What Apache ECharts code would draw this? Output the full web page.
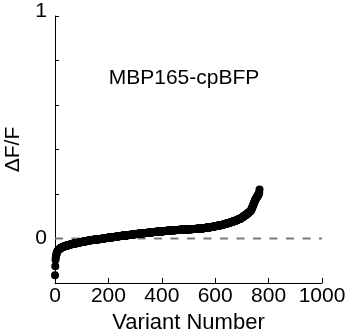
<!DOCTYPE html>
<html>
<head>
<meta charset="utf-8">
<script src="https://cdn.jsdelivr.net/npm/echarts@6/dist/echarts.min.js"></script>
<style>html,body{margin:0;padding:0;background:#fff;}#c{width:348px;height:329px;}</style>
</head>
<body>
<div id="c"></div>
<script>
// Sorted ΔF/F per variant (variant number = position in list)
var dFF = [
-0.165,-0.125,-0.095,-0.085,-0.078,-0.072,-0.068,-0.064,-0.061,-0.058,
-0.056,-0.054,-0.052,-0.051,-0.050,-0.049,-0.048,-0.047,-0.046,-0.045,-0.044,-0.043,-0.043,-0.042,-0.041,-0.041,-0.040,-0.039,-0.039,-0.038,-0.038,-0.037,-0.037,-0.036,-0.036,-0.035,-0.035,-0.034,-0.034,-0.034,-0.033,-0.033,-0.033,-0.032,-0.032,-0.032,-0.031,-0.031,-0.031,-0.030,-0.030,
-0.029,-0.029,-0.029,-0.028,-0.028,-0.028,-0.027,-0.027,-0.027,-0.026,-0.026,-0.026,-0.025,-0.025,-0.025,
-0.024,-0.024,-0.024,-0.024,-0.023,-0.023,-0.023,-0.023,-0.022,-0.022,-0.022,-0.022,-0.021,-0.021,-0.021,-0.021,
-0.020,-0.020,-0.020,-0.020,-0.019,-0.019,-0.019,-0.019,-0.018,-0.018,-0.018,-0.018,-0.017,-0.017,-0.017,-0.017,
-0.016,-0.016,-0.016,-0.016,-0.015,-0.015,-0.015,-0.015,-0.014,-0.014,-0.014,-0.014,-0.013,-0.013,-0.013,-0.013,
-0.012,-0.012,-0.012,-0.012,-0.011,-0.011,-0.011,-0.011,-0.010,-0.010,-0.010,
-0.009,-0.009,-0.009,-0.009,-0.009,-0.009,-0.008,-0.008,-0.008,-0.008,-0.008,-0.008,
-0.007,-0.007,-0.007,-0.007,-0.007,-0.007,-0.006,-0.006,-0.006,-0.006,-0.006,-0.006,
-0.005,-0.005,-0.005,-0.005,-0.005,-0.005,-0.004,-0.004,-0.004,-0.004,-0.004,-0.004,
-0.003,-0.003,-0.003,-0.003,-0.003,-0.003,-0.002,-0.002,-0.002,-0.002,-0.002,-0.002,
-0.001,-0.001,-0.001,-0.001,-0.001,-0.001,0,0,0,0,0,0,
0.001,0.001,0.001,0.001,0.001,0.001,0.002,0.002,0.002,0.002,0.002,0.002,0.003,0.003,0.003,0.003,
0.004,0.004,0.004,0.004,0.004,0.004,0.005,0.005,0.005,0.005,0.005,0.005,
0.006,0.006,0.006,0.006,0.006,0.006,0.007,0.007,0.007,0.007,0.007,0.007,
0.008,0.008,0.008,0.008,0.008,0.008,0.009,0.009,0.009,0.009,0.009,0.009,
0.010,0.010,0.010,0.010,0.010,0.010,0.011,0.011,0.011,0.011,0.011,0.011,
0.012,0.012,0.012,0.012,0.012,0.012,0.013,0.013,0.013,0.013,0.013,0.013,
0.014,0.014,0.014,0.014,0.014,0.014,
0.015,0.015,0.015,0.015,0.015,0.015,0.015,0.016,0.016,0.016,0.016,0.016,0.016,0.016,
0.017,0.017,0.017,0.017,0.017,0.017,0.017,0.018,0.018,0.018,0.018,0.018,0.018,0.018,
0.019,0.019,0.019,0.019,0.019,0.019,0.019,0.020,0.020,0.020,0.020,0.020,0.020,0.020,
0.021,0.021,0.021,0.021,0.021,0.021,0.021,0.022,0.022,0.022,0.022,0.022,0.022,0.022,
0.023,0.023,0.023,0.023,0.023,0.023,0.023,0.024,0.024,0.024,0.024,0.024,0.024,0.024,
0.025,0.025,0.025,0.025,0.025,0.025,0.025,0.025,0.026,0.026,0.026,0.026,0.026,0.026,0.026,0.026,
0.027,0.027,0.027,0.027,0.027,0.027,0.027,0.027,0.028,0.028,0.028,0.028,0.028,0.028,0.028,0.028,
0.029,0.029,0.029,0.029,0.029,0.029,0.029,0.029,0.030,0.030,0.030,0.030,0.030,0.030,0.030,0.030,
0.031,0.031,0.031,0.031,0.031,0.031,0.031,0.031,0.032,0.032,0.032,0.032,0.032,0.032,0.032,0.032,
0.033,0.033,0.033,0.033,0.033,0.033,0.033,0.033,0.034,0.034,0.034,0.034,0.034,0.034,0.034,0.034,
0.035,0.035,0.035,0.035,0.035,0.035,0.035,0.035,0.035,0.035,0.035,0.035,
0.036,0.036,0.036,0.036,0.036,0.036,0.036,0.036,0.036,0.036,0.036,0.036,
0.037,0.037,0.037,0.037,0.037,0.037,0.037,0.037,0.037,0.037,0.037,0.037,
0.038,0.038,0.038,0.038,0.038,0.038,0.038,0.038,0.038,0.038,0.038,0.038,
0.039,0.039,0.039,0.039,0.039,0.039,0.039,0.039,0.039,0.039,0.039,0.039,
0.040,0.040,0.040,0.040,0.040,0.040,0.040,0.040,0.040,0.040,0.040,0.040,
0.041,0.041,0.041,0.041,0.041,0.041,0.041,0.041,0.041,0.041,0.041,0.041,0.041,
0.042,0.042,0.042,0.042,0.042,0.042,0.042,0.042,0.042,0.042,0.042,0.042,0.042,
0.043,0.043,0.043,0.043,0.043,0.043,0.043,0.043,0.043,0.043,0.043,0.043,0.043,
0.044,0.044,0.044,0.044,0.044,0.044,0.044,0.044,0.044,0.044,0.044,0.044,0.044,
0.045,0.045,0.045,0.045,0.045,0.045,0.045,0.045,0.045,0.045,0.045,0.045,0.045,
0.046,0.046,0.046,0.046,0.046,0.047,0.047,0.047,0.047,0.047,0.048,0.048,0.048,0.048,0.048,
0.049,0.049,0.049,0.049,0.049,0.050,0.050,0.050,0.050,0.050,0.051,0.051,0.051,0.051,0.051,
0.052,0.052,0.052,0.052,0.052,0.053,0.053,0.053,0.053,0.053,0.054,0.054,0.054,0.054,0.054,
0.055,0.055,0.055,0.055,0.056,0.056,0.056,0.056,0.057,0.057,0.057,0.057,
0.058,0.058,0.058,0.058,0.059,0.059,0.059,0.059,0.060,0.060,0.060,0.060,
0.060,0.061,0.061,0.061,0.062,0.062,0.062,0.063,0.063,0.063,0.064,0.064,0.064,0.065,0.065,0.065,0.066,0.066,0.066,0.067,0.067,0.067,0.068,0.068,0.068,
0.069,0.069,0.069,0.070,0.070,0.071,0.071,0.071,0.072,0.072,0.073,0.073,0.073,0.074,0.074,0.075,0.075,0.075,0.076,0.076,0.077,0.077,0.077,0.078,0.078,
0.079,0.079,0.080,0.080,0.081,0.081,0.082,0.082,0.083,0.083,0.084,0.084,0.085,0.085,0.086,0.086,0.087,0.087,0.088,0.088,0.089,0.089,0.090,0.090,0.091,
0.092,0.093,0.094,0.095,0.096,0.096,0.097,0.098,0.099,0.100,0.101,0.101,0.102,0.103,0.104,0.105,0.106,0.107,0.107,0.108,0.109,0.110,0.111,0.112,0.113,0.114,0.115,0.116,0.117,0.118,0.119,0.120,0.121,0.122,0.123,0.125,0.126,
0.128,0.131,0.134,0.137,0.140,0.143,0.146,0.149,0.152,0.155,0.158,0.161,0.164,0.167,0.170,0.173,0.176,0.178,0.180,
0.182,0.184,0.186,0.188,0.190,0.192,0.194,0.196,0.198,0.200,0.203,0.206,0.220
];
var yTickLabels = {"0": "0", "1": "1"};
var xMin = 0, xMax = 1000, xStep = 200;
var yMin = -0.2, yMax = 1, yStep = 0.2;
var xLabel = "Variant Number";
var yLabel = "ΔF/F";
var titleText = "MBP165-cpBFP";
var baselineValue = 0;

var points = dFF.map(function (v, i) { return [i, v]; });
var baseline = [[xMin, baselineValue], [xMax, baselineValue]];
var FONT = "'Liberation Sans', Arial, sans-serif";

var chart = echarts.init(document.getElementById('c'), null, {renderer: 'canvas'});
chart.setOption({
  animation: false,
  backgroundColor: '#ffffff',
  grid: {left: 55, right: 26, top: 16, bottom: 46, containLabel: false, outerBoundsMode: 'none'},
  graphic: [{
    type: 'text', x: 184, y: 68,
    style: {text: titleText, textAlign: 'center', textVerticalAlign: 'top', fill: '#000', font: "21px " + FONT}
  }],
  xAxis: {
    type: 'value', min: xMin, max: xMax, interval: xStep,
    name: xLabel, nameLocation: 'middle', nameGap: 17,
    nameTextStyle: {color: '#000', fontSize: 22, fontFamily: FONT},
    axisLine: {show: true, onZero: false, lineStyle: {color: '#000', width: 1}},
    axisTick: {show: true, inside: true, length: 5, lineStyle: {color: '#000'}},
    axisLabel: {color: '#000', fontSize: 21, fontFamily: FONT, margin: 3,
      formatter: function (v) { return String(v); }},
    splitLine: {show: false}
  },
  yAxis: {
    type: 'value', min: yMin, max: yMax, interval: yStep,
    name: yLabel, nameLocation: 'middle', nameGap: 31, nameRotate: 90,
    nameTextStyle: {color: '#000', fontSize: 21, fontFamily: FONT},
    axisLine: {show: true, onZero: false, lineStyle: {color: '#000', width: 1}},
    axisTick: {show: true, inside: true, length: 4, lineStyle: {color: '#000'}},
    axisLabel: {
      color: '#000', fontSize: 21, fontFamily: FONT, margin: 8,
      formatter: function (v) {
        var k = String(Math.round(v * 1000) / 1000);
        if (yTickLabels[k] === undefined) return '';
        return k === '1' ? '{up|' + yTickLabels[k] + '}' : yTickLabels[k];
      },
      rich: {up: {color: '#000', fontSize: 21, fontFamily: FONT, padding: [0, 0, 9, 0]}}
    },
    splitLine: {show: false}
  },
  series: [
    {
      type: 'line', data: baseline, symbol: 'none', silent: true,
      lineStyle: {type: [8, 8.5], color: '#7a7a7a', width: 1.8}, z: 1
    },
    {
      type: 'scatter', data: points, symbol: 'circle', symbolSize: 8,
      itemStyle: {color: '#000', opacity: 1}, silent: true, z: 2
    }
  ]
});
</script>
</body>
</html>
